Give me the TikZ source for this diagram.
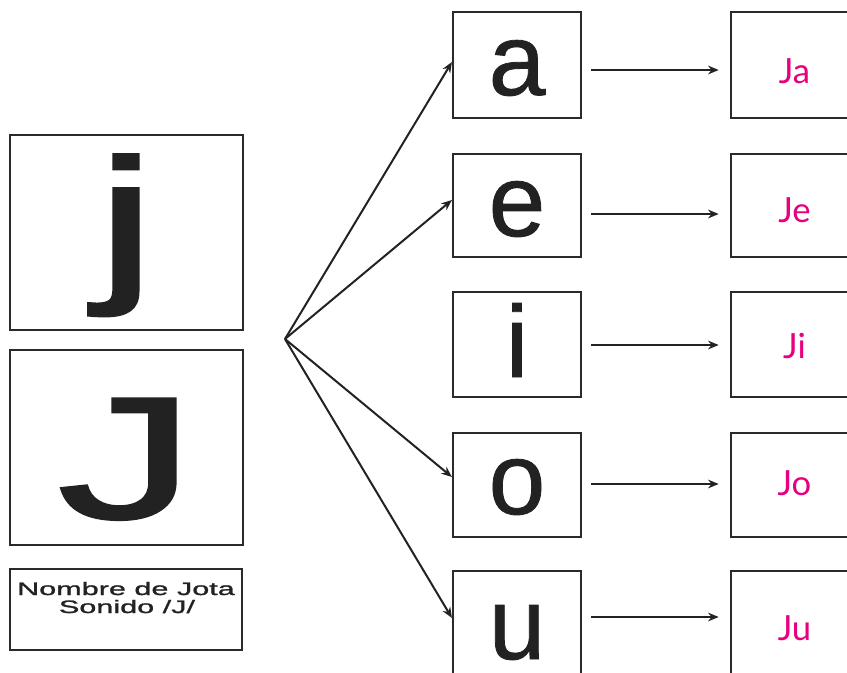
\documentclass[tikz,border=0pt]{standalone}
\usepackage{fontspec}
\setmainfont{Liberation Sans}
\newfontfamily\bigletter[FakeStretch=1.6,FakeBold=1.6]{Liberation Sans}
\newfontfamily\vowelfont[FakeBold=0.8]{Liberation Sans}
\newfontfamily\widefont[FakeStretch=1.7,FakeBold=1.4]{Liberation Sans}
\newfontfamily\thinfont{Lato}
\usetikzlibrary{arrows.meta,calc}
\definecolor{ink}{HTML}{222222}
\definecolor{frame}{HTML}{2A2A2A}
\definecolor{pinkt}{HTML}{E6007E}
\tikzset{
  leftbox/.style={draw=frame, line width=2.2pt, inner sep=0pt, minimum width=174.75pt},
  vbox/.style={draw=frame, line width=1.6pt, inner sep=0pt, minimum width=96pt},
  rbox/.style={draw=frame, line width=1.9pt, inner sep=0pt, minimum width=96pt},
  bigl/.style={anchor=base, inner sep=0pt, text=ink, font=\bigletter\fontsize{130}{130}\selectfont},
  vowel/.style={anchor=base, inner sep=0pt, text=ink, font=\vowelfont\fontsize{76.5}{76.5}\selectfont},
  syl/.style={anchor=base, inner sep=0pt, text=pinkt, font=\thinfont\fontsize{26}{26}\selectfont},
  small/.style={anchor=base, inner sep=0pt, text=ink, font=\widefont\fontsize{13.5}{13.5}\selectfont},
  arr/.style={draw=ink, line width=1.5pt, -{Stealth[length=8pt,width=6.5pt]}}
}
\begin{document}
\begin{tikzpicture}[x=0.75pt,y=-0.75pt]
\useasboundingbox (0,0) rectangle (847,672);
\clip (0,0) rectangle (847,672);
% left boxes
\node[leftbox, minimum height=146.25pt] (jb) at (126.5,232.5) {};
\node[leftbox, minimum height=146.25pt] (Jb) at (126.5,447.5) {};
\node[leftbox, minimum width=174pt, minimum height=60.75pt] (nb) at (126,609.5) {};
\node[bigl] (jt) at (126,280) {j};
\node[bigl] (Jt) at (126.5,518) {J};
\node[small] (n1) at (126,595) {Nombre de Jota};
\node[small] (n2) at (127,613) {Sonido /J/};
% vowel boxes
\node[vbox, minimum height=79.5pt] (a) at (517,65) {};
\node[vbox, minimum height=77.25pt] (e) at (517,205.5) {};
\node[vbox, minimum height=78.75pt] (i) at (517,344.5) {};
\node[vbox, minimum height=78pt] (o) at (517,485) {};
\node[vbox, minimum height=78pt] (u) at (517,623) {};
\node[vowel] (at) at (517,95) {a};
\node[vowel] (et) at (517,236) {e};
\node[vowel] (it) at (517,377) {i};
\node[vowel] (ot) at (517,514) {o};
\node[vowel] (ut) at (517,659) {u};
% right boxes
\node[rbox, minimum height=79.5pt] (ja) at (795,65) {};
\node[rbox, minimum height=77.25pt] (je) at (795,205.5) {};
\node[rbox, minimum height=78.75pt] (ji) at (795,344.5) {};
\node[rbox, minimum height=78pt] (jo) at (795,485) {};
\node[rbox, minimum height=78pt] (ju) at (795,623) {};
\node[syl] (jat) at (794.5,83) {Ja};
\node[syl] (jet) at (794.5,222) {Je};
\node[syl] (jit) at (794.5,358) {Ji};
\node[syl] (jot) at (794.5,495) {Jo};
\node[syl] (jut) at (794.5,640) {Ju};
% fan arrows
\coordinate (hub) at (285,339);
\draw[arr] (hub) -- ($(a.west)+(0,-3)$);
\draw[arr] (hub) -- ($(e.west)+(0,-5.5)$);
\draw[arr] (hub) -- ($(o.west)+(0,-8)$);
\draw[arr] (hub) -- ($(u.west)+(0,-5)$);
% row arrows
\draw[arr] ($(a.east)+(9,5)$) -- ($(ja.west)+(-11,5)$);
\draw[arr] ($(e.east)+(9,8.5)$) -- ($(je.west)+(-11,8.5)$);
\draw[arr] ($(i.east)+(9,0.5)$) -- ($(ji.west)+(-11,0.5)$);
\draw[arr] ($(o.east)+(9,-1)$) -- ($(jo.west)+(-11,-1)$);
\draw[arr] ($(u.east)+(9,-6)$) -- ($(ju.west)+(-11,-6)$);
\end{tikzpicture}
\end{document}
